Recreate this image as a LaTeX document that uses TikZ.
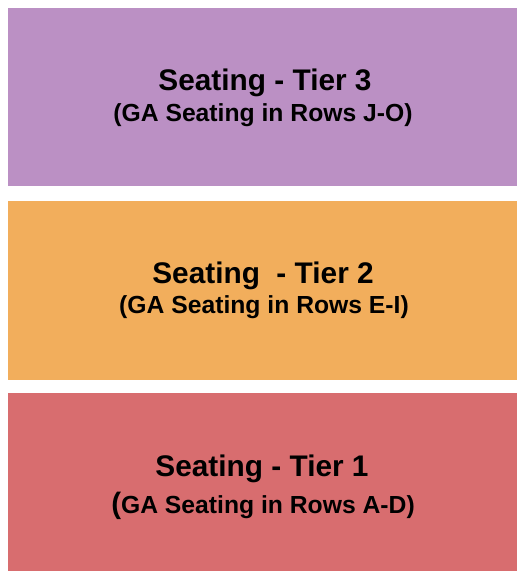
\documentclass[tikz,border=0pt]{standalone}
\usepackage{fontspec}
\setmainfont{Liberation Sans}
\definecolor{tierthree}{RGB}{187,144,196}
\definecolor{tiertwo}{RGB}{242,174,92}
\definecolor{tierone}{RGB}{216,109,111}
\tikzset{
  tierbox/.style={draw=none, minimum width=509pt, minimum height=178pt, inner sep=0pt, outer sep=0pt},
  titletext/.style={anchor=base, inner sep=0pt, font=\fontsize{29.8}{31}\selectfont\bfseries, text=black},
  subtext/.style={anchor=base, inner sep=0pt, font=\fontsize{24.7}{26}\selectfont\bfseries, text=black}
}
\begin{document}
\begin{tikzpicture}[x=1pt,y=1pt]
\useasboundingbox (0,0) rectangle (525,-580);
\node[tierbox, fill=tierthree, anchor=north west] (t3) at (8,-8) {};
\node[tierbox, fill=tiertwo, anchor=north west, minimum height=179pt] (t2) at (8,-201) {};
\node[tierbox, fill=tierone, anchor=north west] (t1) at (8,-393) {};
\node[titletext] (t3a) at (265,-91) {Seating - Tier 3};
\node[subtext] (t3b) at (263,-122) {(GA Seating in Rows J-O)};
\node[titletext] (t2a) at (263,-283) {Seating\ \ - Tier 2};
\node[subtext] (t2b) at (264,-313) {(GA Seating in Rows E-I)};
\node[titletext] (t1a) at (262,-476) {Seating - Tier 1};
\node[subtext] (t1b) at (263,-513) {{\fontsize{29.5}{31}\selectfont (}GA Seating in Rows A-D)};
\end{tikzpicture}
\end{document}
